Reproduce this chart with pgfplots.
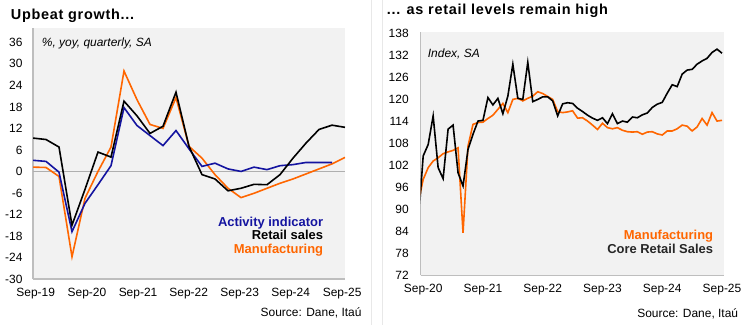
\documentclass[border=0pt]{standalone}
\usepackage{fontspec}
\setmainfont{Liberation Sans}
\usepackage{pgfplots}
\pgfplotsset{compat=1.18}
\definecolor{actblue}{RGB}{20,20,160}
\definecolor{mfgorange}{RGB}{255,102,0}
\definecolor{plotbg}{RGB}{242,242,242}
\definecolor{axgray}{RGB}{190,190,190}
\definecolor{zgray}{RGB}{175,175,175}
\definecolor{panelline}{RGB}{232,232,232}
\newcommand{\tkfont}{\fontsize{12}{14}\selectfont}
\newcommand{\legfont}{\fontsize{13}{15}\selectfont\bfseries}
\newcommand{\ttlfont}{\fontsize{14.5}{17}\selectfont\bfseries\addfontfeature{LetterSpace=5}}
\pgfplotsset{mystyle/.style={
  scale only axis, enlargelimits=false,
  axis background/.style={fill=plotbg},
  axis lines=left, axis line style={-, draw=axgray, line width=1.2bp},
  major tick length=0pt, tick style={draw=none},
  ticklabel style={font=\tkfont},
  /pgf/number format/assume math mode=true,
  every axis plot/.append style={line width=1.6bp, mark=none},
  clip=true,
}}
\begin{document}
\begin{tikzpicture}
\path[use as bounding box] (0,0) rectangle (750bp,325bp);
\fill[white] (0,0) rectangle (750bp,325bp);
\draw[panelline, line width=0.8bp] (371.7bp,0) -- (371.7bp,325bp);
\draw[panelline, line width=0.8bp] (382bp,0) -- (382bp,325bp);

% ---------------- Left chart ----------------
\begin{axis}[mystyle, at={(33bp,46bp)}, anchor=south west,
  width=312bp, height=251bp,
  xmin=0, xmax=24, ymin=-30, ymax=40,
  ytick={-30,-24,...,36},
  yticklabels={-30,-24,-18,-12,-6,0,6,12,18,24,30,36},
  xtick={0.21,4.15,8.08,11.98,15.9,19.82,23.78},
  xticklabels={Sep-19,Sep-20,Sep-21,Sep-22,Sep-23,Sep-24,Sep-25},
  yticklabel style={xshift=-7bp},
  xticklabel style={yshift=-6bp}]
\draw[zgray, line width=1bp] (axis cs:0,0) -- (axis cs:24,0);
% Manufacturing
\addplot[mfgorange] coordinates {
(0,1.2)(1,1.1)(2,-1.4)(3,-23.8)(4,-7.5)(5,0)(6,6.8)(7,28.0)(8,20.0)(9,13.1)
(10,12.0)(11,20.6)(12,7.0)(13,3.7)(14,-0.9)(15,-4.7)(16,-7.3)(17,-6.1)(18,-4.7)
(19,-3.3)(20,-2.1)(21,-0.7)(22,0.7)(23,2.1)(24,3.9)};
% Activity indicator
\addplot[actblue] coordinates {
(0,3.1)(1,2.8)(2,-0.2)(3,-16.8)(4,-8.9)(5,-3.7)(6,1.6)(7,17.8)(8,12.8)(9,10.0)
(10,7.2)(11,11.4)(12,6.3)(13,1.4)(14,2.3)(15,0.7)(16,0.0)(17,1.2)(18,0.5)
(19,1.6)(20,1.9)(21,2.5)(22,2.5)(23,2.5)};
% Retail sales
\addplot[black] coordinates {
(0,9.3)(1,8.9)(2,6.8)(3,-15.0)(4,-5.0)(5,5.4)(6,4.0)(7,19.6)(8,15.5)(9,10.6)
(10,12.6)(11,22.1)(12,7.0)(13,-0.9)(14,-2.1)(15,-5.4)(16,-4.7)(17,-3.6)(18,-3.7)
(19,-0.9)(20,3.7)(21,7.9)(22,11.7)(23,12.9)(24,12.3)};
\end{axis}

\node[anchor=base west, inner sep=0] at (10.7bp,305.7bp) {\ttlfont Upbeat growth...};
\node[anchor=base west, inner sep=0] at (41.7bp,278.3bp) {\tkfont\itshape \%, yoy, quarterly, SA};
\node[anchor=base east, inner sep=0, text=actblue] at (323.3bp,98.3bp) {\legfont Activity indicator};
\node[anchor=base east, inner sep=0, text=black] at (323.3bp,85.7bp) {\legfont Retail sales};
\node[anchor=base east, inner sep=0, text=mfgorange] at (323.3bp,71.7bp) {\legfont Manufacturing};
\node[anchor=base east, inner sep=0] at (361.7bp,9bp) {\tkfont Source: Dane, Itaú};

% ---------------- Right chart ----------------
\begin{axis}[mystyle, at={(420.7bp,49.5bp)}, anchor=south west,
  width=303.3bp, height=243.2bp,
  xmin=-0.5, xmax=60.4, ymin=72, ymax=138.3,
  ytick={72,78,...,138},
  yticklabels={72,78,84,90,96,102,108,114,120,126,132,138},
  xtick={0,12,24,36,48,60},
  xticklabels={Sep-20,Sep-21,Sep-22,Sep-23,Sep-24,Sep-25},
  yticklabel style={xshift=-8.5bp},
  xticklabel style={yshift=-5.5bp}]
% Manufacturing
\addplot[mfgorange] coordinates {
(-1,91.8)(0,98.2)(1,101.4)(2,103.2)(3,104.1)(4,105.2)(5,105.7)(6,106.1)(7,106.8)(8,83.6)
(9,107.3)(10,113.2)(11,113.7)(12,113.8)(13,114.8)(14,115.7)(15,117.3)(16,118.9)(17,116.4)
(18,120.0)(19,120.3)(20,119.6)(21,120.3)(22,120.9)(23,122.1)(24,121.6)(25,120.8)(26,120.0)
(27,116.7)(28,116.4)(29,116.6)(30,116.9)(31,114.9)(32,115.0)(33,114.1)(34,113.0)(35,111.8)
(36,113.5)(37,112.3)(38,112.0)(39,112.3)(40,111.6)(41,111.2)(42,111.1)(43,111.2)(44,110.5)
(45,111.1)(46,111.2)(47,110.6)(48,110.3)(49,111.4)(50,111.4)(51,112.0)(52,113.0)(53,112.7)
(54,111.4)(55,112.5)(56,114.8)(57,113.0)(58,116.4)(59,114.1)(60,114.3)};
% Core retail sales
\addplot[black] coordinates {
(-1,86.0)(0,104.6)(1,107.7)(2,115.5)(3,101.4)(4,98.4)(5,111.9)(6,113.0)(7,100.0)(8,96.4)
(9,106.4)(10,110.5)(11,114.1)(12,114.3)(13,120.5)(14,118.5)(15,120.3)(16,116.1)(17,120.9)
(18,129.6)(19,120.3)(20,120.0)(21,130.1)(22,119.4)(23,120.0)(24,120.7)(25,120.7)(26,119.6)
(27,115.5)(28,118.8)(29,119.1)(30,118.9)(31,117.6)(32,116.7)(33,115.7)(34,114.9)(35,114.3)
(36,115.0)(37,113.4)(38,116.1)(39,113.4)(40,114.1)(41,113.8)(42,115.2)(43,115.0)(44,115.8)
(45,116.3)(46,117.8)(47,118.7)(48,119.2)(49,121.7)(50,124.0)(51,123.5)(52,126.9)(53,128.0)
(54,128.2)(55,129.6)(56,130.5)(57,131.2)(58,132.8)(59,133.7)(60,132.6)};
\end{axis}

\node[anchor=base west, inner sep=0] at (386.7bp,310bp) {\ttlfont ... as retail levels remain high};
\node[anchor=base west, inner sep=0] at (427.7bp,267.7bp) {\tkfont\itshape Index, SA};
\node[anchor=base east, inner sep=0, text=mfgorange] at (713.3bp,85bp) {\legfont Manufacturing};
\node[anchor=base east, inner sep=0, text=black!85] at (713.3bp,71bp) {\legfont Core Retail Sales};
\node[anchor=base east, inner sep=0] at (738.3bp,7.7bp) {\tkfont Source: Dane, Itaú};
\end{tikzpicture}
\end{document}
